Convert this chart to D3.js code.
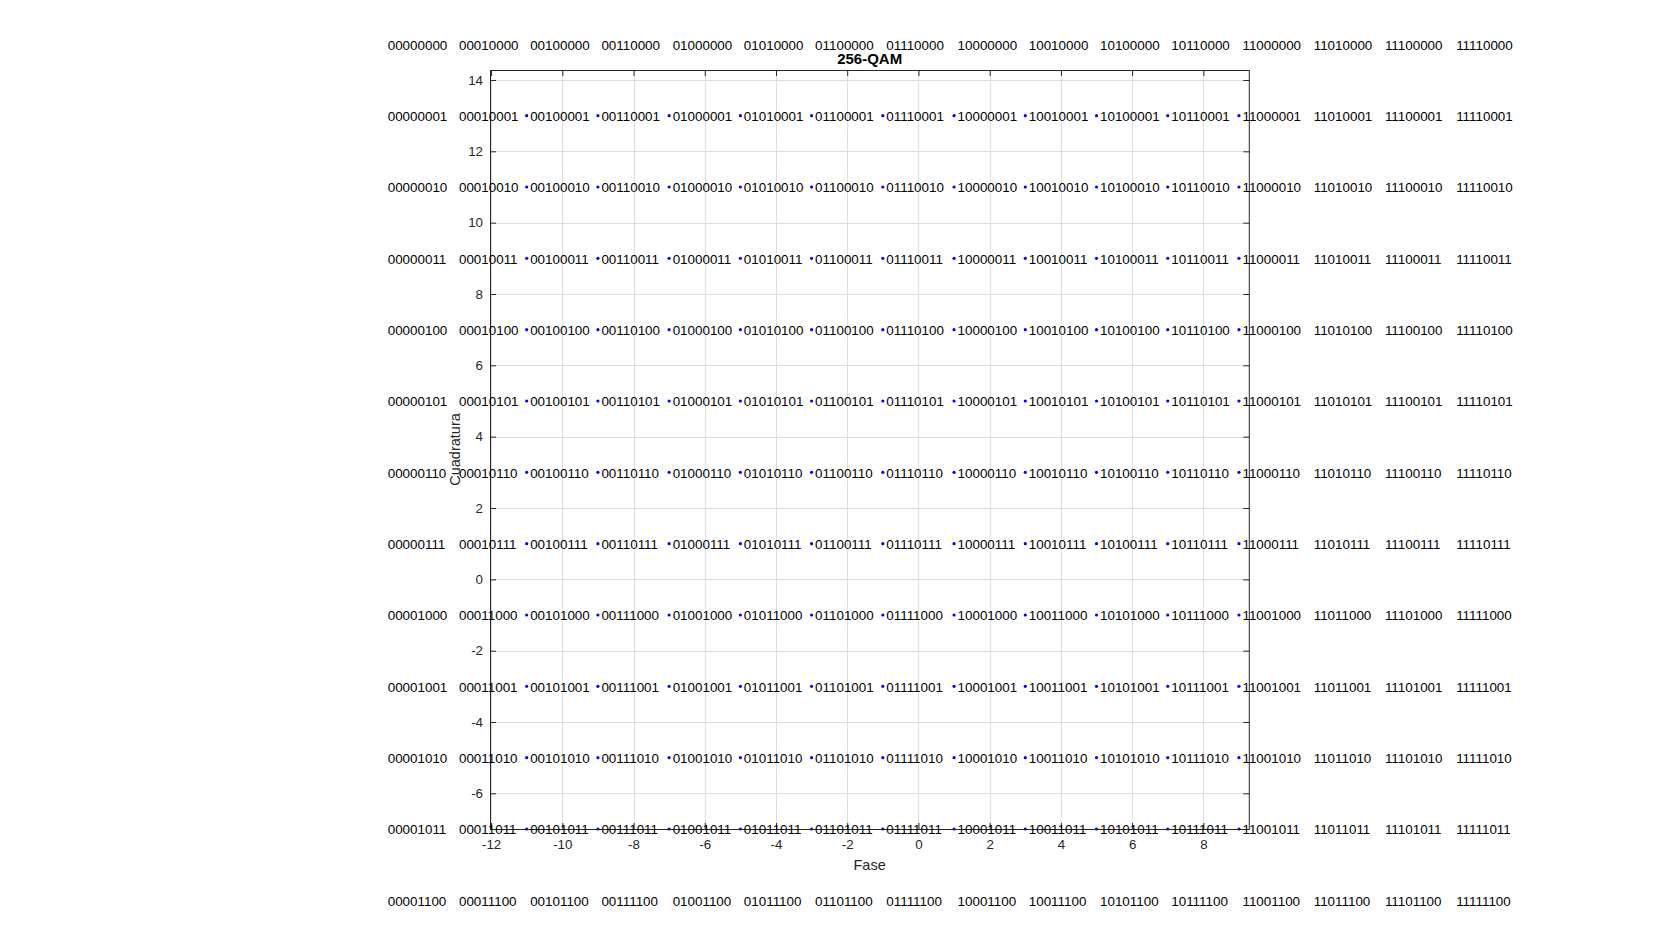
<!DOCTYPE html>
<html>
<head>
<meta charset="utf-8">
<script src="https://cdn.jsdelivr.net/npm/d3@7"></script>
<style>
  html, body { margin: 0; padding: 0; background: #fff; }
  svg { display: block; font-family: "Liberation Sans", Arial, Helvetica, sans-serif; }
</style>
</head>
<body>
<svg id="chart" width="1680" height="933"></svg>
<script>
// ---- data ----
const colBits = ["0000","0001","0010","0011","0100","0101","0110","0111",
                 "1000","1001","1010","1011","1100","1101","1110","1111"];
const colX = [-15,-13,-11,-9,-7,-5,-3,-1,1,3,5,7,9,11,13,15];
const rowBits = ["0000","0001","0010","0011","0100","0101","0110","0111",
                 "1000","1001","1010","1011","1100"];
const rowY = [15,13,11,9,7,5,3,1,-1,-3,-5,-7,-9];
const xTicks = [-12,-10,-8,-6,-4,-2,0,2,4,6,8];
const yTicks = [-6,-4,-2,0,2,4,6,8,10,12,14];
const xLim = [-12.03, 9.29];
const yLim = [-7, 14.28];
const titleText = "256-QAM";
const xLabelText = "Fase";
const yLabelText = "Cuadratura";

// ---- build table ----
const symbols = [];
colBits.forEach((cb, ci) => {
  rowBits.forEach((rb, ri) => {
    symbols.push({ label: cb + rb, x: colX[ci], y: rowY[ri] });
  });
});

// ---- layout ----
const L = 490, R = 1249.3, T = 70, B = 829;
const svg = d3.select("#chart");
const x = d3.scaleLinear().domain(xLim).range([L, R]);
const y = d3.scaleLinear().domain(yLim).range([B, T]);
const axisColor = "#262626";
const tickLen = 6;
const fmt = d => String(d); // hyphen-minus like MATLAB

// background of axes
svg.append("rect").attr("x", L).attr("y", T).attr("width", R - L).attr("height", B - T).attr("fill", "#fff");

// grid
const grid = svg.append("g").attr("stroke", "#dfdfdf").attr("stroke-width", 1);
grid.selectAll("line.gx").data(xTicks).join("line")
  .attr("x1", d => Math.round(x(d)) + 0.5).attr("x2", d => Math.round(x(d)) + 0.5)
  .attr("y1", T).attr("y2", B);
grid.selectAll("line.gy").data(yTicks).join("line")
  .attr("y1", d => Math.round(y(d)) + 0.5).attr("y2", d => Math.round(y(d)) + 0.5)
  .attr("x1", L).attr("x2", R);

// points (only those within axes limits, like MATLAB clipping)
const inside = symbols.filter(s => s.x >= xLim[0] && s.x <= xLim[1] && s.y >= yLim[0] && s.y <= yLim[1]);
svg.append("g").selectAll("circle").data(inside).join("circle")
  .attr("cx", d => x(d.x)).attr("cy", d => y(d.y)).attr("r", 1.6)
  .attr("fill", "#0000ff");

// axes lines and ticks using d3 axes
const axBottom = d3.axisBottom(x).tickValues(xTicks).tickSizeInner(-tickLen).tickSizeOuter(0).tickPadding(11).tickFormat(fmt);
const axTop = d3.axisTop(x).tickValues(xTicks).tickSizeInner(-tickLen).tickSizeOuter(0).tickFormat("");
const axLeft = d3.axisLeft(y).tickValues(yTicks).tickSizeInner(-tickLen).tickSizeOuter(0).tickPadding(7).tickFormat(fmt);
const axRight = d3.axisRight(y).tickValues(yTicks).tickSizeInner(-tickLen).tickSizeOuter(0).tickFormat("");

function style(g) {
  g.select(".domain").remove();
  g.selectAll(".tick line").attr("stroke", axisColor);
  g.selectAll(".tick text").attr("fill", axisColor).style("font-size", "13.33px")
    .style("font-family", "'Liberation Sans', Arial, sans-serif");
}
svg.append("g").attr("transform", `translate(0,${B})`).call(axBottom).call(style)
  .selectAll(".tick text").attr("dy", "0.71em");
svg.append("g").attr("transform", `translate(0,${T})`).call(axTop).call(style);
svg.append("g").attr("transform", `translate(${L},0)`).call(axLeft).call(style);
svg.append("g").attr("transform", `translate(${R},0)`).call(axRight).call(style);

// box
svg.append("rect").attr("x", L + 0.5).attr("y", T + 0.5).attr("width", R - L - 0.5).attr("height", B - T)
  .attr("fill", "none").attr("stroke", axisColor).attr("stroke-width", 1);

// symbol labels (not clipped)
svg.append("g").selectAll("text").data(symbols).join("text")
  .attr("x", d => x(d.x) + 3.5).attr("y", d => y(d.y) + 0.8)
  .attr("dominant-baseline", "central")
  .attr("fill", "#000").style("font-size", "13.4px")
  .text(d => d.label);

// title and axis labels
svg.append("text").attr("x", (L + R) / 2).attr("y", 58).attr("text-anchor", "middle")
  .attr("dominant-baseline", "central").style("font-size", "15px").style("font-weight", "bold")
  .attr("fill", "#000").text(titleText);
svg.append("text").attr("x", (L + R) / 2).attr("y", 865).attr("text-anchor", "middle")
  .attr("dominant-baseline", "central").style("font-size", "14.5px")
  .attr("fill", axisColor).text(xLabelText);
svg.append("text").attr("transform", `translate(455,${(T + B) / 2}) rotate(-90)`)
  .attr("text-anchor", "middle").attr("dominant-baseline", "central").style("font-size", "14.5px")
  .attr("fill", axisColor).text(yLabelText);
</script>
</body>
</html>
